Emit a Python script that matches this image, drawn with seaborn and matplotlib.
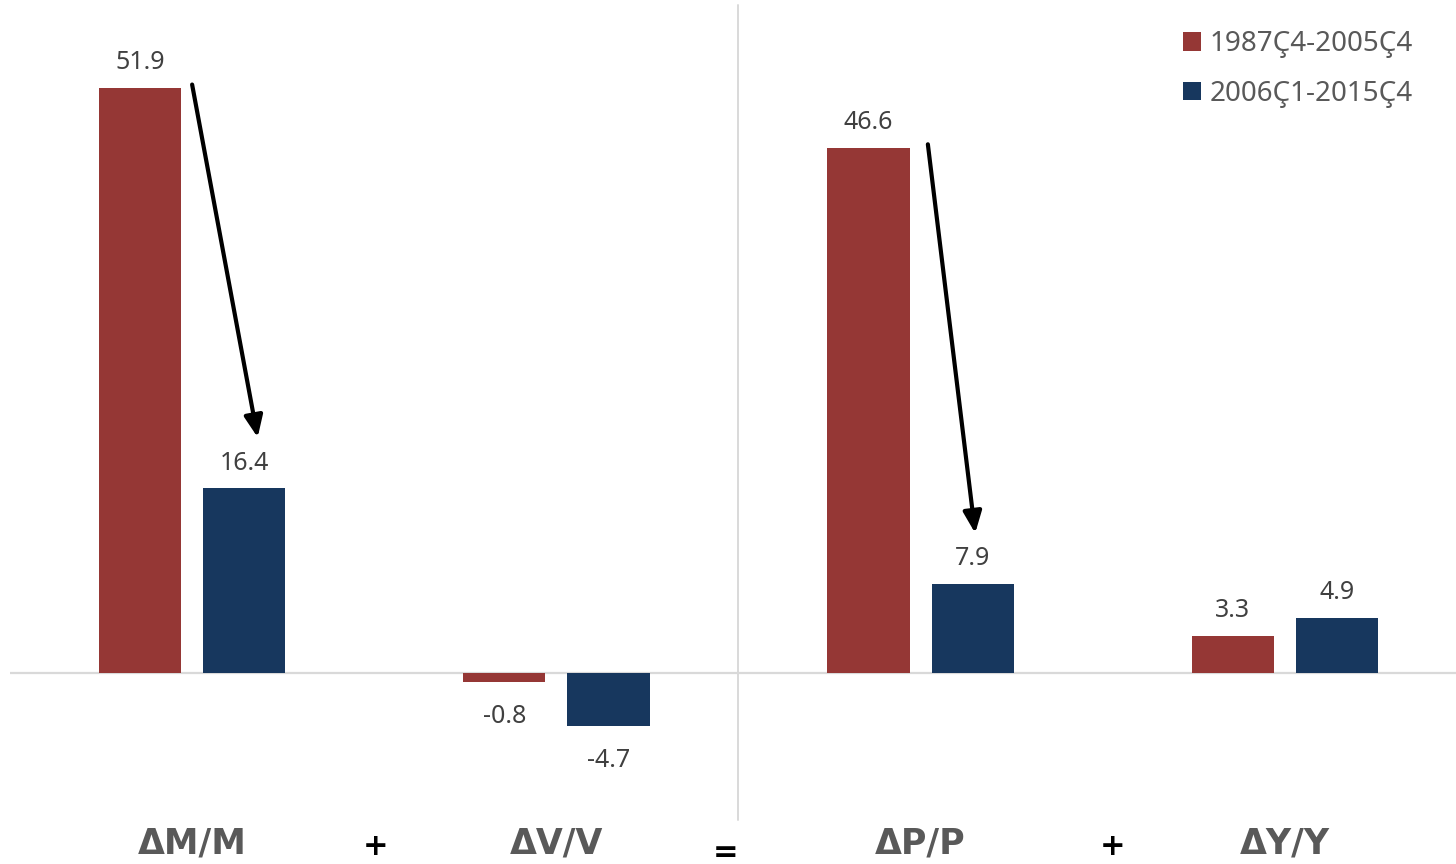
import numpy as np
import pandas as pd
import seaborn as sns
import matplotlib.pyplot as plt

# Quantity-theory decomposition: growth rates by period
categories = ["ΔM/M", "ΔV/V", "ΔP/P", "ΔY/Y"]
periods = ["1987Ç4-2005Ç4", "2006Ç1-2015Ç4"]
values_early = [51.9, -0.8, 46.6, 3.3]
values_late = [16.4, -4.7, 7.9, 4.9]
colors = ["#953735", "#17375E"]

df = pd.DataFrame({
    "category": categories * 2,
    "period": [periods[0]] * len(categories) + [periods[1]] * len(categories),
    "value": values_early + values_late,
})

sns.set_theme(style="white")
plt.rcParams["font.family"] = ["Noto Sans", "DejaVu Sans"]

fig = plt.figure(figsize=(14.56, 8.64), dpi=100)
ax = fig.add_axes([10 / 1456, 1 - 815 / 864, 1446 / 1456, 815 / 864])

sns.barplot(data=df, x="category", y="value", hue="period",
            order=categories, hue_order=periods, palette=colors,
            width=0.572, gap=0.21, saturation=1, errorbar=None,
            linewidth=0, ax=ax)

ax.set_xlim(-0.5, 3.47)
ax.set_ylim(-12.6, 59.7)
sns.despine(ax=ax, left=True, bottom=True)
ax.set_yticks([])
ax.set_xlabel("")
ax.set_ylabel("")
ax.set_xticks(range(len(categories)))
ax.set_xticklabels(categories, fontsize=25, fontweight="bold",
                   color="#595959", family="DejaVu Sans")
ax.tick_params(axis="x", length=0, pad=8)

# zero line and the separator between the two sides of the identity
ax.axhline(0, color="#d9d9d9", lw=1.6, zorder=0.5)
ax.plot([1.5, 1.5], [59.3, -13.0], color="#d9d9d9", lw=1.4, clip_on=False, zorder=0.5)

# value labels
for container, vals in zip(ax.containers, [values_early, values_late]):
    for bar, v in zip(container, vals):
        x = bar.get_x() + bar.get_width() / 2
        if v >= 0:
            ax.annotate(f"{v:.1f}", (x, v), xytext=(0, 9), textcoords="offset points",
                        ha="center", va="bottom", fontsize=18, color="#404040")
        else:
            ax.annotate(f"{v:.1f}", (x, v), xytext=(0, -16), textcoords="offset points",
                        ha="center", va="top", fontsize=18, color="#404040")

# arrows showing the drop between periods
for idx, dx0, dx1 in [(0, 0.0, 0.18), (2, 0.02, 0.15)]:
    ax.annotate("", xy=(idx + dx1, values_late[idx] + 4.5),
                xytext=(idx + dx0, values_early[idx] + 0.3),
                arrowprops=dict(arrowstyle="-|>,head_length=0.65,head_width=0.28",
                                color="black", lw=3.0, mutation_scale=20,
                                shrinkA=0, shrinkB=0))

# operators of the identity
for xpos, ypos, sym in [(0.505, -15.4, "+"), (1.464, -15.9, "="), (2.527, -15.4, "+")]:
    ax.text(xpos, ypos, sym, ha="center", va="center", fontsize=22,
            fontweight="bold", color="black", family="DejaVu Sans")

leg = ax.legend(loc="upper right", bbox_to_anchor=(1413 / 1456, 1 - 30 / 864),
                bbox_transform=fig.transFigure, frameon=False, fontsize=20,
                handlelength=0.65, handleheight=0.65, handletextpad=0.3,
                labelspacing=0.78, borderaxespad=0, borderpad=0, title=None)
for t in leg.get_texts():
    t.set_color("#595959")

fig.savefig("out.png", dpi=100)
